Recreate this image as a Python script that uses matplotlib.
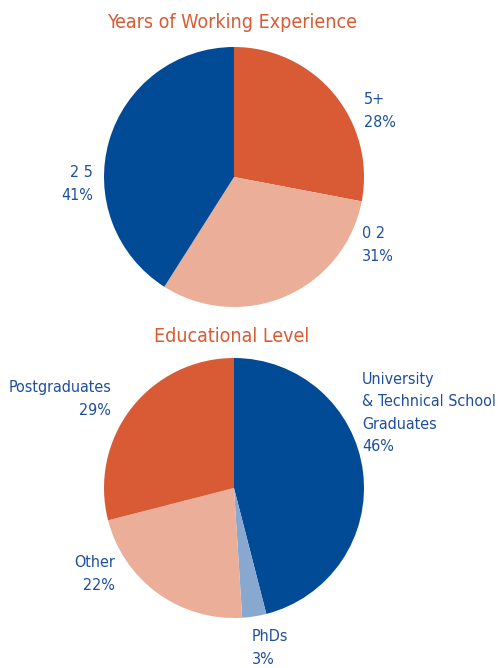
import matplotlib
matplotlib.use("Agg")
import matplotlib.pyplot as plt

plt.rcParams['font.family'] = ['DejaVu Sans']
plt.rcParams['font.stretch'] = 'condensed'

# years of working experience
exp_labels = ['5+', '0 2', '2 5']
exp_values = [28, 31, 41]

# educational level
edu_labels = ['University\n& Technical School\nGraduates', 'PhDs', 'Other', 'Postgraduates']
edu_values = [46, 3, 22, 29]

ORANGE = '#D95B35'
SALMON = '#EBAE99'
BLUE = '#004A96'
LIGHT_BLUE = '#88A8D0'
TEXT_BLUE = '#1E4F9C'

W, H = 499, 668
fig = plt.figure(figsize=(W / 100, H / 100), dpi=100)


def px(x, y):
    return x / W, 1 - y / H


def pie_axes(cx, cy, r):
    return fig.add_axes([(cx - r) / W, 1 - (cy + r) / H, 2 * r / W, 2 * r / H])


ax1 = pie_axes(234, 177, 130)
ax1.pie(exp_values, colors=[ORANGE, SALMON, BLUE], startangle=90,
        counterclock=False, radius=1)
ax1.set_xlim(-1, 1)
ax1.set_ylim(-1, 1)
ax1.set_aspect('equal')

ax2 = pie_axes(234, 488, 130)
ax2.pie(edu_values, colors=[BLUE, LIGHT_BLUE, SALMON, ORANGE], startangle=90,
        counterclock=False, radius=1)
ax2.set_xlim(-1, 1)
ax2.set_ylim(-1, 1)
ax2.set_aspect('equal')

fig.text(*px(232, 23), 'Years of Working Experience', color=ORANGE,
         fontsize=14, ha='center', va='center')
fig.text(*px(232, 337), 'Educational Level', color=ORANGE,
         fontsize=14, ha='center', va='center')

lab = dict(color=TEXT_BLUE, fontsize=11.5, linespacing=1.6)

# label anchors: (x, y, ha)
exp_pos = [(364, 111, 'left'), (362, 245, 'left'), (93, 184, 'right')]
for (x, y, ha), name, v in zip(exp_pos, exp_labels, exp_values):
    fig.text(*px(x, y), f'{name}\n{v}%', ha=ha, va='center', **lab)

edu_pos = [(362, 413, 'left'), (252, 648, 'left'), (115, 574, 'right'), (111, 399, 'right')]
edu_ha_multi = ['left', 'left', 'right', 'right']
for (x, y, ha), name, v, ma in zip(edu_pos, edu_labels, edu_values, edu_ha_multi):
    fig.text(*px(x, y), f'{name}\n{v}%', ha=ha, va='center', multialignment=ma, **lab)

fig.savefig('out.png', dpi=100)
